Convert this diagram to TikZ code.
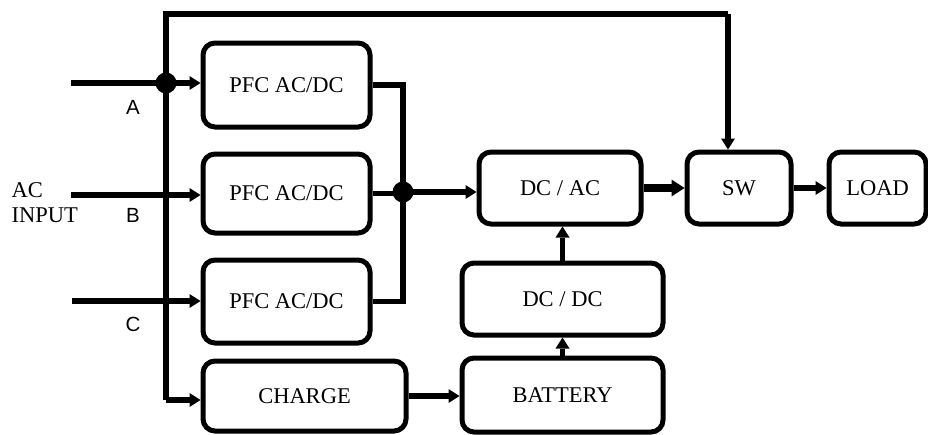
\documentclass[tikz,border=0pt]{standalone}
\usepackage{fontspec}
\setmainfont{Liberation Serif}
\newfontfamily\phasefont{Liberation Sans}
\usetikzlibrary{arrows.meta}
\definecolor{UpsInk}{HTML}{000000}

\begin{document}
\begin{tikzpicture}[x=1pt,y=-1pt]
    \tikzset{convstage/.style={draw=UpsInk,line width=5pt,rounded corners=12pt,inner sep=0pt,
      font=\fontsize{22.5}{25}\selectfont},
      powerwire/.style={UpsInk,line width=5.5pt},
      powerfeed/.style={powerwire,-{Triangle[length=11pt,width=14pt,line width=0pt]}},
      phaselabel/.style={font=\phasefont\fontsize{20.5}{23}\selectfont}}
    \useasboundingbox (0,0) rectangle (928,434);
    % converter blocks
    \node[convstage,minimum width=167pt,minimum height=84pt] (pfca) at (286.5,85) {PFC AC/DC};
    \node[convstage,minimum width=167pt,minimum height=79pt] (pfcb) at (286.5,193.5) {PFC AC/DC};
    \node[convstage,minimum width=167pt,minimum height=83pt] (pfcc) at (286.5,301.5) {PFC AC/DC};
    \node[convstage,minimum width=203pt,minimum height=70pt] (charge) at (304.5,396) {CHARGE};
    \node[convstage,minimum width=162pt,minimum height=72pt] (dcac) at (560,188) {DC / AC};
    \node[convstage,minimum width=201pt,minimum height=72pt] (dcdc) at (562.5,299) {DC / DC};
    \node[convstage,minimum width=201pt,minimum height=74pt] (battery) at (562.5,395) {BATTERY};
    \node[convstage,minimum width=104pt,minimum height=72pt] (sw) at (739,188) {SW};
    \node[convstage,minimum width=97pt,minimum height=72pt] (load) at (877.5,188) {LOAD};
    % input side
    \node[anchor=west,align=left,font=\fontsize{22.5}{25}\selectfont] (acin) at (8,203) {AC\\INPUT};
    \node[phaselabel] (labA) at (133,107) {A};
    \node[phaselabel] (labB) at (133,215) {B};
    \node[phaselabel] (labC) at (133,324) {C};
    \coordinate (inA) at (71,83);
    \coordinate (inB) at (71,195);
    \coordinate (inC) at (72,301);
    \coordinate (junA) at (166,83);
    \coordinate (busTop) at (166,14);
    \coordinate (busBot) at (166,400);
    \coordinate (swFeed) at (728,14);
    \coordinate (collect) at (403,192);
    % bypass bus
    \draw[powerwire] (busBot) -- (busTop) -- (swFeed);
    \draw[powerfeed] (swFeed) -- (swFeed |- sw.north);
    \draw[powerfeed] (busBot) -- (busBot -| charge.west);
    \draw[powerfeed] (inA) -- (inA -| pfca.west);
    \draw[powerfeed] (inB) -- (inB -| pfcb.west);
    \draw[powerfeed] (inC) -- (inC -| pfcc.west);
    % dc collector
    \draw[powerwire] (pfca.east) -| (collect) |- (pfcc.east);
    \draw[powerwire] (pfcb.east) -- (pfcb.east -| collect);
    \draw[powerfeed] (collect) -- (collect -| dcac.west);
    \fill[UpsInk] (junA) circle (10.5pt);
    \fill[UpsInk] (collect) circle (10.5pt);
    % output and battery path
    \draw[powerwire,line width=8pt,-{Triangle[length=13pt,width=17pt,line width=0pt]}] (dcac.east) -- (sw.west);
    \draw[powerfeed] (sw.east) -- (load.west);
    \draw[powerfeed] (dcdc.north) -- (dcdc.north |- dcac.south);
    \draw[powerfeed] (battery.north) -- (dcdc.south);
    \draw[powerfeed] (charge.east) -- (charge.east -| battery.west);
  \end{tikzpicture}
\end{document}
